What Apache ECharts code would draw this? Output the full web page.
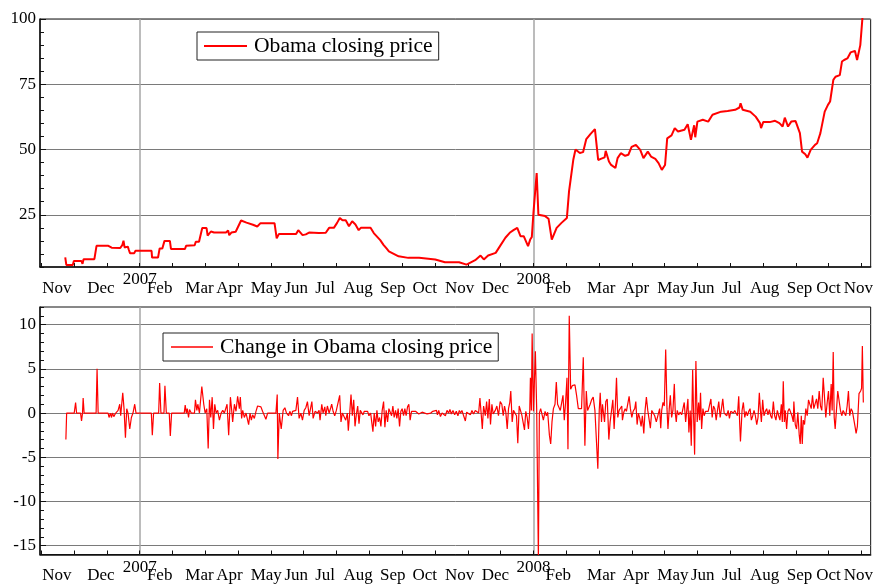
<!DOCTYPE html>
<html><head><meta charset="utf-8">
<script src="https://cdn.jsdelivr.net/npm/echarts@6/dist/echarts.min.js"></script>
<style>html,body{margin:0;padding:0;background:#fff}#c{width:876px;height:584px}</style>
</head><body><div id="c"></div><script>
// x values are days since 2007-01-01
const monthLabelNames = ['Nov','Dec','Feb','Mar','Apr','May','Jun','Jul','Aug','Sep','Oct','Nov','Dec','Feb','Mar','Apr','May','Jun','Jul','Aug','Sep','Oct','Nov'];
const monthLabelDays = [-76.7,-36,18.5,55.4,83.2,117.3,145.1,171.9,202.4,234.7,264.3,296.6,329.8,388.1,427.8,460.1,494.3,522,548.9,579.3,611.7,638.5,666.2];
const yearLabels = ['2007','2008'];
const yearDays = [0,365];
const priceTicks = [25,50,75,100];
const changeTicks = [-15,-10,-5,0,5,10];

const closingPrice = [
[-69,8.7],[-68,5.8],[-62,5.8],[-61,7.3],[-54,7.3],[-53,6.2],[-52,8.0],[-42,8.0],[-40,13.1],[-29,13.1],[-26,12.4],[-18,12.3],[-16,13.5],[-15,15.1],[-14,12.5],[-11,12.8],[-10,11.5],[-9,10.3],[-5,10.3],[-4,11.2],[11,11.2],[11.5,8.6],[17,8.6],[18.5,12.1],[21,12.1],[23,15.0],[28,15.0],[29,11.9],[42,11.9],[43,13.1],[51,13.3],[52,14.7],[55,14.7],[58,19.9],[62,19.9],[63,17.0],[66,18.6],[69,18.2],[80,18.2],[82,19.0],[83,17.2],[85,18.2],[89,18.5],[94,22.8],[99,22.0],[105,21.2],[109,20.5],[112,21.8],[125,21.8],[127,16.0],[129,17.6],[145,17.6],[147,19.1],[151,17.2],[154,17.5],[157,18.2],[166,18.0],[172.5,18.1],[175.6,20.0],[180,20.0],[183,21.9],[185.5,23.8],[188,22.9],[191,22.9],[194,20.6],[197,22.5],[200,21.3],[203,19.1],[205,20.0],[214,20.0],[217,18.0],[223,15.3],[226,13.5],[229,12.0],[231,11.0],[240,9.1],[249,8.5],[259,8.5],[274,7.9],[283,6.8],[296,6.8],[303,5.9],[311,7.6],[316,9.4],[319,7.9],[323,9.4],[330,10.4],[334,13.0],[339,16.2],[343,18.1],[346.5,19.1],[350,20.0],[353,16.8],[356,16.8],[360,13.0],[362,15.5],[363.5,16.5],[365,25.7],[368,41.0],[369.6,25.0],[375.8,24.5],[379,23.5],[382,15.5],[383.5,14.9],[386.5,20.0],[391,21.9],[396,23.8],[398,34.0],[402,46.2],[404,50.0],[408,48.7],[411,49.0],[414,54.0],[418,56.0],[422,57.8],[423,57.5],[425,46.0],[428,46.5],[431,47.0],[432,49.5],[435,45.4],[437,44.1],[441,42.9],[443,46.7],[446,48.6],[450,47.6],[453,48.0],[456,51.0],[460,51.8],[464,49.9],[467,46.7],[471,49.2],[474,47.3],[478,46.4],[481,44.8],[484,42.2],[487,44.1],[489,54.3],[493,55.4],[496,58.2],[499,56.9],[505,57.6],[508,59.7],[511,53.7],[514,59.3],[515,54.7],[517,60.7],[522,61.4],[527,60.7],[531,63.3],[539,64.5],[545,64.8],[552,65.2],[556,66.1],[557,67.7],[559,65.2],[566,64.5],[571,62.6],[575,60.1],[576,58.2],[578,60.5],[584,60.5],[589,61.0],[593,60.1],[596,58.8],[598,62.2],[601,58.8],[604,60.7],[608,60.9],[612,56.3],[614,49.2],[617,48.2],[619,46.9],[622,49.9],[626,51.8],[628,52.4],[631,56.3],[635,64.5],[638,67.1],[640,68.4],[643,76.7],[645,77.9],[649,78.5],[651,83.7],[653,84.3],[656,84.9],[659,87.2],[663,87.8],[665,84.3],[668,90.0],[670,100.5]
];

const priceChange = [
[-68.4,-3.0],[-67.7,0],[-60.7,0],[-59.4,1.2],[-58.5,0],[-54.8,0],[-53.9,-0.9],[-53,0],[-52.4,1.7],[-51.5,0],[-40.4,0],[-39.5,5.0],[-38.5,0],[-29.3,0],[-28.4,-0.5],[-27.1,0],[-26.1,-0.5],[-25.2,0],[-24,-0.4],[-22.2,0],[-20,0.3],[-18.5,1.0],[-17.6,-0.3],[-15.7,2.3],[-14.5,0.5],[-13.2,-2.8],[-12,0.5],[-10.8,0],[-9.2,-1.8],[-7.7,-0.5],[-6.2,0],[-4.6,1.0],[-3.4,0],[10.8,0],[11.7,-2.5],[12.9,0],[17.6,0],[18.5,3.4],[19.7,0],[22.5,0],[23.4,3.1],[24.7,0],[27.4,0],[28.4,-2.6],[29.6,0],[41.3,0],[42.2,0.9],[43.2,0],[44.1,0.5],[45.3,-0.5],[46.2,0.4],[47.8,0],[50.8,0],[51.7,1.5],[53,0.3],[53.9,1.0],[55.4,0],[56.7,0],[57.6,3.0],[59.4,1.0],[60.7,0],[62.2,0.5],[63.5,-4.0],[64.7,1.5],[65.9,-0.5],[67.2,1.8],[68.4,-1.8],[69.6,1.0],[70.9,0],[72.3,0.3],[73.9,-0.8],[75.5,0],[77,0.3],[78.5,0],[81,1.0],[82.5,-2.5],[84.1,1.8],[85.3,0.3],[86.2,-1.0],[87.8,1.0],[89.3,0.2],[90.8,1.9],[92.4,0.5],[93.3,1.8],[94.5,-0.6],[95.5,0.3],[97,-0.5],[98.6,0],[100.1,-0.2],[101,-1.3],[102.3,0],[103.5,-0.8],[104.7,-0.2],[106.3,-0.6],[107.8,0.2],[109.3,0.8],[110.9,0.8],[112.4,0.7],[113.9,0.2],[115.5,0],[117,-0.7],[118.6,0],[126.3,0],[127.5,2.1],[128.1,-5.2],[129.4,0],[131.2,-1.8],[133,0.3],[134.6,0.6],[136.1,0],[138,-0.3],[139.2,0.2],[140.7,-0.3],[141.7,0.2],[143.2,0],[144.8,0.3],[146.3,1.8],[147.8,-0.6],[149.4,0],[150.9,-0.8],[152.5,0.3],[154,0.6],[155.5,1.3],[157.1,-0.3],[159.6,1.3],[160.8,-0.6],[162.6,0.2],[164.8,0],
[166.3,0.3],[167.2,-0.8],[168.8,1.0],[170,0],[171.6,0.7],[172.5,-0.3],[174,0.8],[175.6,0],[177.1,0.6],[178,1.0],[179.3,0.2],[180.8,-0.3],[182.3,0.3],[183.9,0.5],[185.4,2.0],[186.6,-1.0],[187.9,0],[189.4,0.2],[191,-0.8],[192.5,0],[193.4,-2.0],[194.7,0],[195.9,2.1],[197.1,-0.3],[198.4,1.5],[199.6,-1.5],[200.8,-0.2],[202.1,0.8],[203.3,-1.2],[204.5,0.3],[205.8,0.5],[207,-0.2],[208.2,0.2],[210,0],[211.3,0.2],[212.5,-0.3],[214.1,0],[215,-0.2],[216.2,-2.1],[217.4,0],[218.7,-1.5],[219.9,0.3],[221.1,-1.0],[222.4,-0.5],[223.6,-1.5],[224.8,0.3],[226.1,1.3],[227.3,-1.6],[228.5,0.3],[229.8,-1.0],[231,0.5],[232.2,0.7],[233.5,-0.3],[234.7,0.8],[235.9,-0.5],[237.2,0.3],[238.4,-0.6],[239.6,0.5],[240.9,-1.5],[242.1,0.2],[243.3,0.5],[244.6,-0.3],[245.8,0.5],[247,-0.3],[248.3,0.7],[249.5,1.0],[250.7,-0.8],[252,0.2],[253.8,0],[255.7,0.2],[257.2,0.1],[258.7,-0.1],[260.3,0],[261.8,0.1],[264.3,0],[266.4,-0.1],[268,0.1],[269.8,0],[271.7,0.2],[273.5,0],[275.1,0.3],[276,-0.2],[277.2,0.3],[278.8,-0.4],[280.3,0],[282.1,0.2],[283.4,-0.3],[284.9,0.3],[286.4,0],[287.6,0.4],[288.9,-0.1],[290.4,0.3],[292,-0.2],[293.5,0.2],[295,-0.3],[296.3,0.3],[297.5,0],[298.7,0.3],[300.3,-0.3],[301.9,-0.9],[303.1,0.1],[304.9,0.3],[306.5,-0.2],[308,0.3],[309.5,-0.1],[311.1,0.3],[312.9,0.5],[314.2,0],[315.4,1.7],[316.7,-0.3],[317.6,-1.8],[318.8,0.8],[320.4,-0.3],[321.6,1.3],[322.8,-0.6],[324.1,1.6],[325.2,-1.3],[326.5,1.0],[327.7,-0.1],[329.6,0.3],[331.1,0.8],[332.6,-0.3],[334.2,1.3],[335.7,1.0],[337,-0.3],[338.2,0.8],[339.4,0.1],[340.7,-1.8],[341.9,0.5],[343.1,1.2],[344,2.5],[345.3,-1.0],[346.5,0.3],[348.1,0.3],[349.3,-0.3],[350.5,-3.4],[351.8,0.8],[353,0.6],[354.2,-0.2],[355.5,0],[356.7,-1.9],[357.9,0.2],[359.2,-0.5],[360.4,-1.8],[361.6,0.3],[362.2,4.0],[363.1,0.3],[363.8,9.0],[365,0.2],[366.8,7.0],[368,0.5],[369.6,-16.5],[370.5,0],[371.7,0.5],[372.7,0.3],[374.2,-0.8],[375.8,0.2],[377,-0.3],[378.2,0.1],[379.8,-2.5],[381,-3.5],[382.2,-1.0],[383.5,0.5],[385,1.0],[386.2,3.5],[387.4,1.0],[388.7,0.8],[389.9,0.3],[391.1,0.5],[392.4,2.0],[393.6,-0.8],[394.8,1.2],[396.1,4.0],[397,-4.1],[398.2,11.0],[399.5,2.7],[401,3.1],[403.5,3.2],[405,2.0],[406.6,0.5],[408.1,0.3],[409.6,0.5],[411.2,6.3],[412.7,-3.7],[414,2.5],[415.2,0.3],[416.4,0.5],[417.6,1.0],[418.9,1.5],[420.4,1.8],[422,0.3],
[422.9,0.3],[424.7,-6.3],[426,0.3],[426.9,2.3],[428.1,-1.0],[429,1.0],[430,1.1],[430.9,-1.0],[432.1,1.3],[433.4,1.6],[434.9,-3.0],[436.1,-1.0],[437.3,0.2],[438.6,1.5],[439.8,-1.8],[441,1.0],[442,4.0],[443.2,-0.5],[444.4,0.3],[445.7,0.2],[446.9,0.8],[447.5,-0.8],[448.8,0.1],[450,0.5],[451.2,0.2],[452.5,0.3],[453.7,1.9],[454.9,0.5],[456.2,-0.5],[457.4,0.2],[458.9,0.5],[459.9,1.3],[461.1,-1.3],[462.3,0],[463.6,-0.6],[464.8,-1.5],[466,-0.3],[467.3,-2.3],[468.5,0.3],[469.7,1.8],[471,0.3],[472.2,0.3],[473.4,-1.7],[474.7,0.3],[475.9,0.1],[477.4,-0.3],[478.9,-1.0],[480.5,-1.2],[482,0.5],[483,-1.7],[483.9,0.3],[485.1,1.2],[486.3,0.8],[487.6,7.2],[488.8,0.5],[489.7,-1.8],[490.9,0.5],[491.9,2.0],[493.1,-0.5],[494.3,0.3],[495.6,3.3],[496.5,0],[497.4,-1.0],[498.3,0.3],[499.6,-0.2],[501.1,0.1],[502.4,-0.2],[503.6,0.5],[504.8,1.2],[506.1,-1.0],[507.3,0.5],[508.2,1.6],[509.1,-2.2],[510.3,0.3],[511.3,-3.7],[512.6,4.9],[513.5,-0.5],[514.4,-4.7],[515.6,5.9],[516.8,-1.0],[518.1,1.2],[519,-0.8],[519.9,2.3],[520.9,-1.8],[522.1,0.5],[523.3,-0.3],[524.5,0.2],[525.8,0],[527,0.2],[528.2,0.1],[529.5,1.6],[530.7,-0.5],[531.9,0.8],[533.1,0.5],[534.4,-0.8],[535.6,0.3],[536.8,1.3],[538.1,-0.5],[539.3,0.5],[540.5,1.6],[541.8,0],[543,0],[544.2,-0.3],[545.5,0.3],[546.7,-0.6],[547.9,0.2],[549.2,0.3],[550.4,0],[551.6,0.3],[552.8,0],[554.1,-0.3],[555.3,1.9],[556.2,-1.2],[556.9,-3.2],[558.4,0.3],[559.6,1.2],[560.9,-0.5],[562.1,0.2],[563.3,-0.3],[564.6,0.2],[565.8,0.5],[567,-0.8],[568.3,-0.3],[569.5,0.3],[570.7,-0.3],[572,-1.3],[573.2,-0.5],[574.4,2.3],[575.4,0.3],[576.3,-1.0],[577.5,1.5],[578.7,-0.3],[580,0.2],[581.2,0.5],[582.4,-0.2],[583.7,0.4],[584.9,-0.3],[586.1,-0.6],[587.4,1.3],[588.6,-0.3],[589.8,-0.8],[591.1,0.3],[592.3,-0.3],[593.5,-0.8],[594.8,1.0],[595.7,-1.0],[596.6,3.6],[597.6,-1.0],[598.5,0.3],[599.7,-1.8],[600.9,0.2],[602.2,0.5],[603.4,0.5],[604.6,-0.3],[605.9,-1.0],[606.4,1.3],[607.7,-1.3],[608.9,-1.8],[610.1,0.1],[611.4,-2.5],[612.3,-3.5],[613.3,-0.3],[614.2,-3.5],[615.1,-0.8],[616.3,-1.3],[617.5,0.5],[618.8,-0.3],[620,1.5],[621.2,1.3],[622.5,0.5],[623.7,2.0],[624.9,0.5],[626.2,0.3],[627.4,1.6],[628.6,0.5],[629.9,2.5],[631.1,0.8],[632.3,0.3],[633.6,4.0],[634.8,1.8],[636,-0.5],[637.3,1.2],[638.5,2.5],[639.7,-0.3],[641,3.3],[641.9,0.3],[642.9,6.9],[643.8,-0.5],[644.7,-1.8],[646,0.5],[647.1,2.5],[648.4,2.3],[649.6,0.3],[650.8,-0.3],[652.1,0.3],[653.3,0.5],[654.5,-0.3],[655.8,0.8],[657,2.5],[658.2,-0.3],[659.5,0.5],[660.7,0.2],[661.9,0.3],[663.1,-1.5],[664.1,-2.3],[665.3,-1.5],[666.8,2.2],[668.3,2.5],[669.2,2.8],[669.9,7.6],[670.8,1.2]
];

const FONT = 'Liberation Serif';
const X_MIN = -92.4, X_MAX = 677.6;
const monthTicks = [];
for (let k = -3; k <= 22; k++) { const v = k * 365 / 12; if (v > X_MIN && v < X_MAX) monthTicks.push(v); }

function nearestName(v, days, names) {
  let best = 0, bd = Infinity;
  days.forEach((d, i) => { const dd = Math.abs(d - v); if (dd < bd) { bd = dd; best = i; } });
  return names[best];
}

function monthAxis(gridIndex, margin) {
  return {
    type: 'value', gridIndex, min: X_MIN, max: X_MAX, position: 'bottom',
    axisLine: { show: true, onZero: false, lineStyle: { color: '#111', width: 1.5 } },
    axisTick: { show: true, inside: true, length: 4, customValues: monthTicks, lineStyle: { color: '#111' } },
    axisLabel: { customValues: monthLabelDays, margin, fontFamily: FONT, fontSize: 17, color: '#000',
      formatter: v => nearestName(v, monthLabelDays, monthLabelNames) },
    splitLine: { show: false }
  };
}
function yearAxis(gridIndex, margin) {
  return {
    type: 'value', gridIndex, min: X_MIN, max: X_MAX, position: 'bottom',
    axisLine: { show: false, onZero: false },
    axisTick: { show: false, customValues: yearDays },
    axisLabel: { customValues: yearDays, margin, fontFamily: FONT, fontSize: 17, color: '#000',
      formatter: v => nearestName(v, yearDays, yearLabels) },
    splitLine: { show: true, lineStyle: { color: '#a6a6a6', width: 1.5 } }
  };
}
function majorY(gridIndex, min, max, ticks) {
  return {
    type: 'value', gridIndex, min, max, position: 'left',
    axisLine: { show: true, onZero: false, lineStyle: { color: '#111', width: 1.5 } },
    axisTick: { show: true, inside: true, length: 6, customValues: ticks, lineStyle: { color: '#111' } },
    axisLabel: { customValues: ticks, margin: 4, fontFamily: FONT, fontSize: 17, color: '#000' },
    splitLine: { show: true, lineStyle: { color: '#7a7a7a', width: 1 } }
  };
}
function minorY(gridIndex, min, max, step) {
  return {
    type: 'value', gridIndex, min, max, interval: step, position: 'left',
    axisLine: { show: false, onZero: false },
    axisTick: { show: true, inside: true, length: 4, lineStyle: { color: '#111' } },
    axisLabel: { show: false },
    splitLine: { show: false }
  };
}

const chart = echarts.init(document.getElementById('c'), null, { renderer: 'canvas' });
chart.setOption({
  animation: false,
  backgroundColor: '#fff',
  grid: [
    { left: 40, top: 19, right: 3, height: 248, show: true, borderColor: '#111', borderWidth: 1, containLabel: false },
    { left: 40, top: 307, right: 3, height: 248, show: true, borderColor: '#111', borderWidth: 1, containLabel: false }
  ],
  xAxis: [monthAxis(0, 13.5), yearAxis(0, 4.5), monthAxis(1, 12.5), yearAxis(1, 4.5)],
  yAxis: [majorY(0, 5, 100, priceTicks), minorY(0, 5, 100, 5), majorY(1, -16, 12, changeTicks), minorY(1, -16, 12, 1)],
  legend: [
    { data: [{ name: 'Obama closing price', icon: 'rect' }], left: 197, top: 32, padding: [3, 6, 3, 7], itemWidth: 43, itemHeight: 2,
      borderColor: '#222', borderWidth: 1, borderRadius: 0, selectedMode: false,
      itemStyle: { color: '#ff0000', borderWidth: 0 },
      textStyle: { fontFamily: FONT, fontSize: 21.6, color: '#000', padding: [0, 0, 0, 2], lineHeight: 22 } },
    { data: [{ name: 'Change in Obama closing price', icon: 'rect' }], left: 163, top: 333, padding: [3, 6, 3, 8], itemWidth: 42, itemHeight: 1.5,
      borderColor: '#222', borderWidth: 1, borderRadius: 0, selectedMode: false,
      itemStyle: { color: '#ff0000', borderWidth: 0 },
      textStyle: { fontFamily: FONT, fontSize: 21.6, color: '#000', padding: [0, 0, 0, 2], lineHeight: 22 } }
  ],
  series: [
    { name: 'Obama closing price', type: 'line', xAxisIndex: 0, yAxisIndex: 0, data: closingPrice,
      symbol: 'none', lineStyle: { color: '#ff0000', width: 2 }, itemStyle: { color: '#ff0000' }, clip: true, z: 5 },
    { name: 'Change in Obama closing price', type: 'line', xAxisIndex: 2, yAxisIndex: 2, data: priceChange,
      symbol: 'none', lineStyle: { color: '#ff0000', width: 1.2 }, itemStyle: { color: '#ff0000' }, clip: true, z: 5 }
  ]
});
</script></body></html>
